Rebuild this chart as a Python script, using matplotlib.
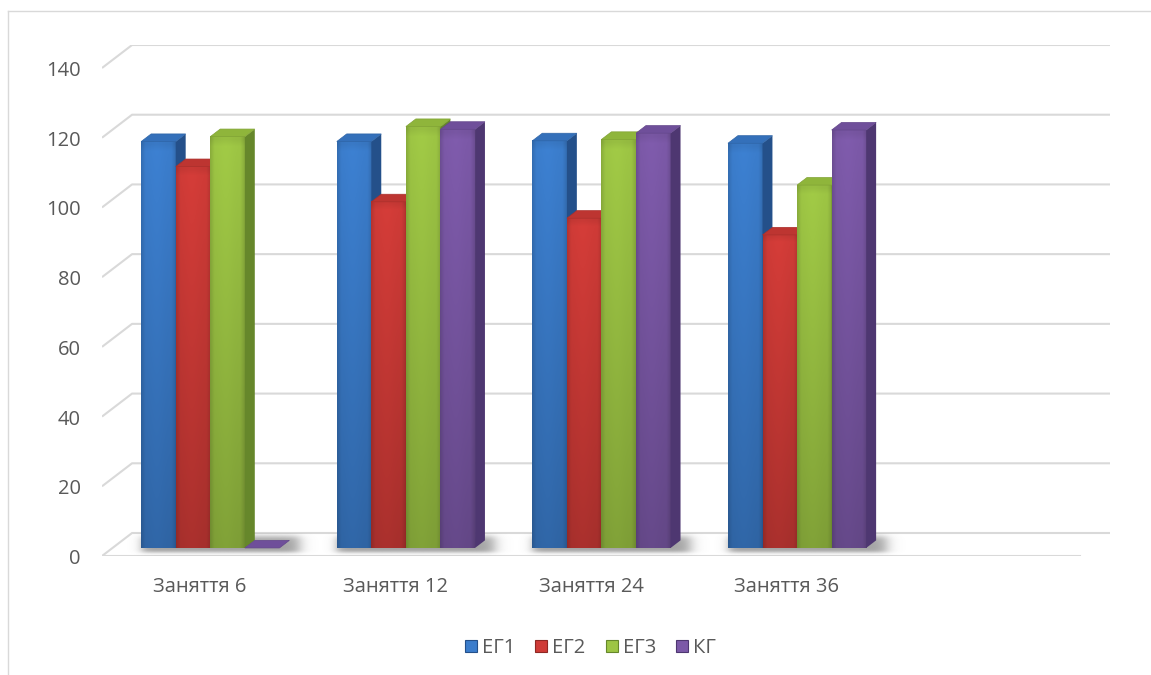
import numpy as np
import matplotlib
matplotlib.use("Agg")
import matplotlib.pyplot as plt
from matplotlib.patches import Polygon, Patch
from matplotlib.lines import Line2D
from matplotlib.colors import to_rgb

# ---- data -------------------------------------------------------------
categories = ["Заняття 6", "Заняття 12", "Заняття 24", "Заняття 36"]
series_names = ["ЕГ1", "ЕГ2", "ЕГ3", "КГ"]
eg1 = [116.6, 116.6, 116.8, 116.1]
eg2 = [109.4, 99.3, 94.6, 89.8]
eg3 = [118.0, 120.9, 117.2, 104.1]
kg = [0.0, 120.1, 119.0, 119.9]
y_ticks = [0, 20, 40, 60, 80, 100, 120, 140]

series = [eg1, eg2, eg3, kg]
front_colors = ["#3b7dcc", "#cf3b37", "#9dc544", "#7c59a8"]
side_colors = ["#24508a", "#8e2824", "#66872b", "#4e3771"]
top_colors = ["#3470ba", "#bd3531", "#8fb53b", "#6f4f9a"]

GRID = "#d9d9d9"
TEXT = "#595959"
FS = 14.5

plt.rcParams["font.family"] = ["Open Sans", "DejaVu Sans"]

W, H, DPI = 1151, 675, 100
fig = plt.figure(figsize=(W / DPI, H / DPI), dpi=DPI)

# plot box in pixels (front-left floor corner to back-right top corner)
left_px, right_px, floor_px, top_px = 102, 1110, 556, 45
ax = fig.add_axes([left_px / W, 1 - floor_px / H,
                   (right_px - left_px) / W, (floor_px - top_px) / H])
ax.set_axis_off()

n_slots = 5                      # category range of the axis (last slot empty)
ymax = 140
px_per_cat = 976 / n_slots
px_per_val = (floor_px - top_px) / (ymax + 23 / 3.486)
DXB = 30 / px_per_cat            # depth offset of the back wall
DYB = 23 / px_per_val
F1, F2 = 0.35, 0.68              # bar depth (front/back) as fraction of depth
XMIN, XMAX = -0.5, n_slots - 0.5

# ---- walls / gridlines -----------------------------------------------
for v in y_ticks:
    ax.plot([XMIN, XMIN + DXB, XMAX + DXB], [v, v + DYB, v + DYB],
            color=GRID, lw=1.5, zorder=1, solid_capstyle="butt")
# floor front edge
ax.plot([XMIN, XMAX], [0, 0], color=GRID, lw=1.5, zorder=1)

# soft shadows on the floor under each group
gap = 1 - 4 * 0.1767
bw = (1 - gap) / 4
floor_poly = Polygon([(XMIN, 0), (XMAX, 0), (XMAX + DXB, DYB), (XMIN + DXB, DYB)],
                     closed=True, transform=ax.transData)
for ci in range(len(categories)):
    gl = ci - 2 * bw + F1 * DXB
    gr = ci + 2 * bw + F2 * DXB
    xs = np.linspace(gl - 0.15, gr + 0.25, 200)
    ys = np.linspace(0, DYB, 40)
    X, Y = np.meshgrid(xs, ys)
    sx = 0.5 * (np.tanh((X - gl) / 0.03) - np.tanh((X - (gr + 0.05)) / 0.04))
    sy = 0.5 * (np.tanh((Y - 1.0) / 0.6) - np.tanh((Y - (F2 * DYB + 1.2)) / 1.0))
    alpha = 0.6 * sx * sy
    img = np.zeros((len(ys), len(xs), 4))
    img[..., :3] = 0.40
    img[..., 3] = np.clip(alpha, 0, 1)
    im = ax.imshow(img, extent=(xs[0], xs[-1], ys[0], ys[-1]), origin="lower",
                   aspect="auto", interpolation="bilinear", zorder=2)
    im.set_clip_path(floor_poly)


def shade(c, f):
    r = np.array(to_rgb(c)) * f
    return tuple(np.clip(r, 0, 1))


def front_image(color):
    nx, ny = 40, 60
    u = np.linspace(0, 1, nx)
    v = np.linspace(0, 1, ny)
    # bevel: darker edges, bright interior
    hx = 0.88 + 0.12 * np.clip(np.minimum(u, 1 - u) / 0.12, 0, 1)
    hx = hx + 0.03 * np.exp(-((u - 0.45) / 0.25) ** 2)
    vy = 0.80 + 0.20 * v      # darker toward the base
    vy = np.where(v > 0.985, vy * 0.94, vy)
    base = np.array(to_rgb(color))
    img = base[None, None, :] * vy[:, None, None] * hx[None, :, None]
    return np.clip(img, 0, 1)


dxd = (F2 - F1) * DXB
dyd = (F2 - F1) * DYB
z = 3
for ci in range(len(categories)):
    for si, vals in enumerate(series):
        val = vals[ci]
        x0 = ci - 2 * bw + si * bw + F1 * DXB
        x1 = x0 + bw
        y0 = F1 * DYB
        y1 = y0 + val
        if val > 0:
            ax.imshow(front_image(front_colors[si]),
                      extent=(x0, x1, y0, y1), origin="lower", aspect="auto",
                      interpolation="bilinear", zorder=z)
            side = Polygon([(x1, y0), (x1, y1), (x1 + dxd, y1 + dyd), (x1 + dxd, y0 + dyd)],
                           closed=True, facecolor=side_colors[si], edgecolor="none", zorder=z + 0.001)
            ax.add_patch(side)
        topf = Polygon([(x0, y1), (x1, y1), (x1 + dxd, y1 + dyd), (x0 + dxd, y1 + dyd)],
                       closed=True, facecolor=top_colors[si],
                       edgecolor=shade(top_colors[si], 0.9), lw=0.5, zorder=z + 0.002)
        ax.add_patch(topf)
        z += 0.01

ax.set_xlim(XMIN, XMAX + DXB)
ax.set_ylim(0, ymax + DYB)

# ---- labels ----------------------------------------------------------
for v in y_ticks:
    ax.annotate(str(v), xy=(XMIN, v), xycoords="data", xytext=(-21, -3),
                textcoords="offset pixels", ha="right", va="center",
                color=TEXT, fontsize=FS, annotation_clip=False)
for ci, name in enumerate(categories):
    ax.annotate(name, xy=(ci, 0), xycoords="data", xytext=(0, -31),
                textcoords="offset pixels", ha="center", va="center",
                color=TEXT, fontsize=FS, annotation_clip=False)

handles = [Patch(facecolor=front_colors[i], edgecolor=side_colors[i], lw=0.8)
           for i in range(len(series_names))]
fig.legend(handles, series_names, loc="center", bbox_to_anchor=(0.513, 1 - 648 / H),
           ncol=4, frameon=False, fontsize=FS, handlelength=0.6, handleheight=0.6,
           handletextpad=0.25, columnspacing=1.0, labelcolor=TEXT)

# chart area border (top and left edges)
fig.add_artist(Line2D([8 / W, 8 / W], [0, 1 - 11 / H], color=GRID, lw=1.0,
                      transform=fig.transFigure))
fig.add_artist(Line2D([8 / W, 1], [1 - 11 / H, 1 - 11 / H], color=GRID, lw=1.0,
                      transform=fig.transFigure))

fig.savefig("out.png", dpi=DPI, facecolor="white")
